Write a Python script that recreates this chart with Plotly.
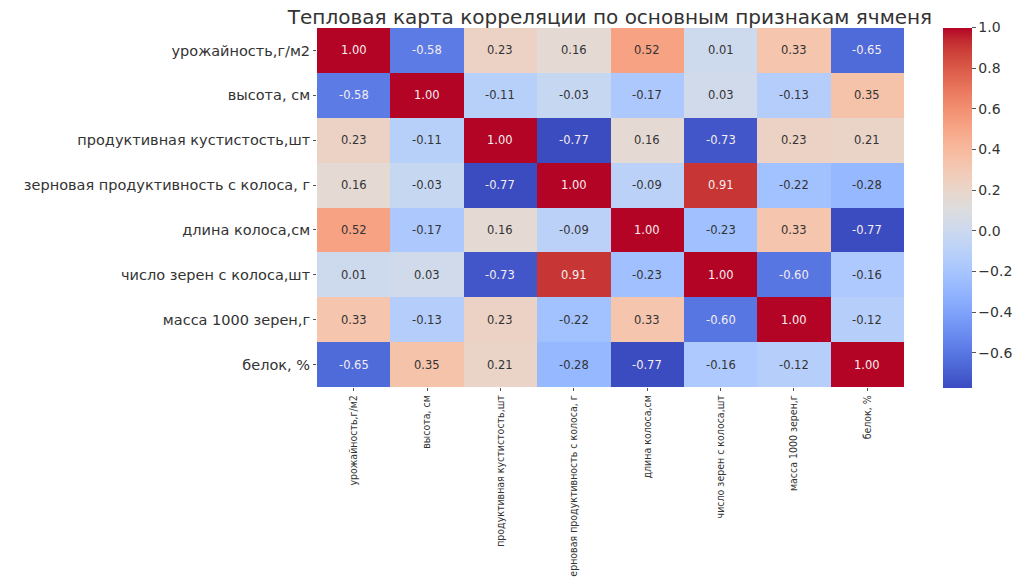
import plotly.graph_objects as go

# Признаки ячменя и матрица корреляций между ними
features = [
    "урожайность,г/м2",
    "высота, см",
    "продуктивная кустистость,шт",
    "зерновая продуктивность с колоса, г",
    "длина колоса,см",
    "число зерен с колоса,шт",
    "масса 1000 зерен,г",
    "белок, %",
]

row_yield = [1.00, -0.58, 0.23, 0.16, 0.52, 0.01, 0.33, -0.65]
row_height = [-0.58, 1.00, -0.11, -0.03, -0.17, 0.03, -0.13, 0.35]
row_tillering = [0.23, -0.11, 1.00, -0.77, 0.16, -0.73, 0.23, 0.21]
row_ear_yield = [0.16, -0.03, -0.77, 1.00, -0.09, 0.91, -0.22, -0.28]
row_ear_length = [0.52, -0.17, 0.16, -0.09, 1.00, -0.23, 0.33, -0.77]
row_grains = [0.01, 0.03, -0.73, 0.91, -0.23, 1.00, -0.60, -0.16]
row_tgw = [0.33, -0.13, 0.23, -0.22, 0.33, -0.60, 1.00, -0.12]
row_protein = [-0.65, 0.35, 0.21, -0.28, -0.77, -0.16, -0.12, 1.00]

corr = [row_yield, row_height, row_tillering, row_ear_yield,
        row_ear_length, row_grains, row_tgw, row_protein]

cb_ticks = [-0.6, -0.4, -0.2, 0.0, 0.2, 0.4, 0.6, 0.8, 1.0]

# Diverging "coolwarm" palette
coolwarm_rgb = [
    (59, 76, 192), (68, 90, 204), (77, 104, 215), (87, 117, 225),
    (98, 130, 234), (108, 142, 241), (119, 154, 247), (130, 165, 251),
    (141, 176, 254), (152, 185, 255), (163, 194, 255), (174, 201, 253),
    (184, 208, 249), (194, 213, 244), (204, 217, 238), (213, 219, 230),
    (221, 221, 221), (229, 216, 209), (236, 211, 197), (241, 204, 185),
    (245, 196, 173), (247, 187, 160), (247, 177, 148), (247, 166, 135),
    (244, 154, 123), (241, 141, 111), (236, 127, 99), (229, 112, 88),
    (222, 96, 77), (213, 80, 66), (203, 62, 56), (192, 40, 47),
    (180, 4, 38),
]
n = len(coolwarm_rgb) - 1
colorscale = [[i / n, "rgb(%d,%d,%d)" % c] for i, c in enumerate(coolwarm_rgb)]

zmin = min(min(r) for r in corr)
zmax = max(max(r) for r in corr)


def color_at(v):
    t = (v - zmin) / (zmax - zmin)
    t = max(0.0, min(1.0, t)) * n
    i = min(int(t), n - 1)
    f = t - i
    a, b = coolwarm_rgb[i], coolwarm_rgb[i + 1]
    return [a[k] + (b[k] - a[k]) * f for k in range(3)]


def luminance(rgb):
    out = []
    for c in rgb:
        c = c / 255.0
        out.append(c / 12.92 if c <= 0.03928 else ((c + 0.055) / 1.055) ** 2.4)
    return 0.2126 * out[0] + 0.7152 * out[1] + 0.0722 * out[2]


# Page geometry (pixels)
W, H = 1015, 577
left, right_edge, top, bottom_edge = 317, 904, 28, 387
cb_left = 943
area_w = W - left

fig = go.Figure()
fig.add_trace(go.Heatmap(
    z=corr,
    x=features,
    y=features,
    zmin=zmin,
    zmax=zmax,
    colorscale=colorscale,
    hoverongaps=False,
    colorbar=dict(
        x=(cb_left - left) / area_w, xanchor="left", xpad=0,
        y=0.5, yanchor="middle", ypad=0,
        thickness=29,
        lenmode="pixels", len=360,
        outlinewidth=0,
        tickvals=cb_ticks,
        ticktext=[("−%.1f" % -v) if v < 0 else "%.1f" % v for v in cb_ticks],
        ticks="outside", ticklen=4, tickcolor="#555555",
        tickfont=dict(family="DejaVu Sans", size=14, color="#333333"),
    ),
))

# Value labels inside each cell
for i, row in enumerate(corr):
    for j, v in enumerate(row):
        dark = luminance(color_at(v)) > 0.408
        fig.add_annotation(
            x=features[j], y=features[i], text="%.2f" % v,
            showarrow=False,
            font=dict(family="DejaVu Sans", size=11.5,
                      color="#333333" if dark else "#f4eef0"),
        )

fig.update_layout(
    width=W, height=H,
    margin=dict(l=left, r=0, t=top, b=H - bottom_edge, autoexpand=False),
    paper_bgcolor="white",
    plot_bgcolor="white",
    title=dict(
        text="Тепловая карта корреляции по основным признакам ячменя",
        x=610 / W, xanchor="center",
        y=1 - 17 / H, yanchor="middle",
        font=dict(family="DejaVu Sans", size=20, color="#333333"),
    ),
    xaxis=dict(
        domain=[0, (right_edge - left) / area_w],
        tickangle=-90, showgrid=False, zeroline=False, automargin=False,
        ticks="outside", ticklen=3, tickcolor="#555555",
        tickfont=dict(family="DejaVu Sans Condensed", size=10.5, color="#333333"),
    ),
    yaxis=dict(
        autorange="reversed", showgrid=False, zeroline=False, automargin=False,
        ticks="outside", ticklen=3, tickcolor="#555555",
        tickfont=dict(family="DejaVu Sans", size=14.5, color="#333333"),
    ),
)

fig.write_html("out.html")
